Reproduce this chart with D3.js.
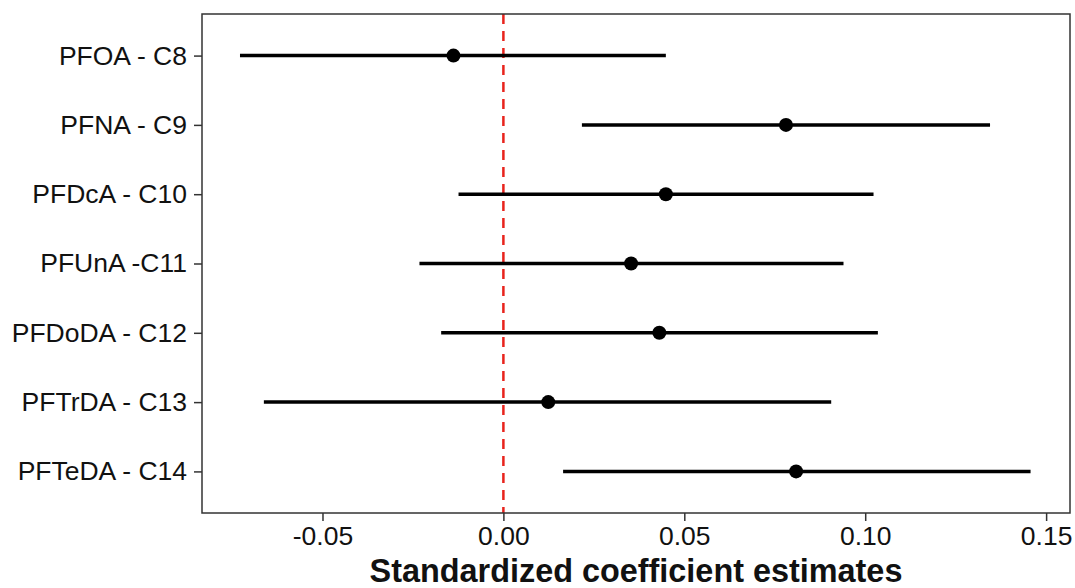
<!DOCTYPE html>
<html>
<head>
<meta charset="UTF-8">
<title>Standardized coefficient estimates</title>
<style>
  body { margin: 0; background: #fff; }
  text { font-family: Arial, "Liberation Sans", sans-serif; }
</style>
</head>
<body>
<svg></svg>
<script src="https://d3js.org/d3.v7.min.js"></script>
<script>
// chart data
const compounds = ["PFOA - C8", "PFNA - C9", "PFDcA - C10", "PFUnA -C11", "PFDoDA - C12", "PFTrDA - C13", "PFTeDA - C14"];
const estimates = [-0.0138, 0.0781, 0.0449, 0.0353, 0.0431, 0.0124, 0.0809];
const lower = [-0.0728, 0.0217, -0.0124, -0.0232, -0.0172, -0.0662, 0.0165];
const upper = [0.0449, 0.1345, 0.1023, 0.0940, 0.1035, 0.0906, 0.1457];
const xTicks = [-0.05, 0.00, 0.05, 0.10, 0.15];

let width = 1075,
    height = 588;
let margin = {top: 14, right: 5, bottom: 75, left: 202};

let svg = d3.select("svg")
    .attr("width", width)
    .attr("height", height);

const rows = compounds.map((c, i) => ({name: c, est: estimates[i], lo: lower[i], hi: upper[i]}));

const x = d3.scaleLinear()
    .domain([-0.0833, 0.1566])
    .range([margin.left, width - margin.right]);

const y = d3.scalePoint()
    .domain(compounds)
    .range([margin.top, height - margin.bottom])
    .padding(0.6);

// reference line at zero
svg.append("line")
    .attr("x1", x(0)).attr("x2", x(0))
    .attr("y1", margin.top).attr("y2", height - margin.bottom)
    .attr("stroke", "#e8231c")
    .attr("stroke-width", 2.5)
    .attr("stroke-dasharray", "10,7");

// confidence intervals
svg.append("g")
    .selectAll("line")
    .data(rows)
    .enter().append("line")
    .attr("x1", d => x(d.lo))
    .attr("x2", d => x(d.hi))
    .attr("y1", d => y(d.name))
    .attr("y2", d => y(d.name))
    .attr("stroke", "#000")
    .attr("stroke-width", 3.5);

// point estimates
svg.append("g")
    .selectAll("circle")
    .data(rows)
    .enter().append("circle")
    .attr("cx", d => x(d.est))
    .attr("cy", d => y(d.name))
    .attr("r", 7)
    .attr("fill", "#000");

// axes (plain hyphen for negatives, like the original)
const fmt = d => d3.format(".2f")(d).replace("\u2212", "-");

const xAxis = svg.append("g")
    .attr("transform", `translate(0,${height - margin.bottom})`)
    .call(d3.axisBottom(x).tickValues(xTicks).tickFormat(fmt).tickSizeInner(8).tickSizeOuter(0).tickPadding(5));

const yAxis = svg.append("g")
    .attr("transform", `translate(${margin.left},0)`)
    .call(d3.axisLeft(y).tickSizeInner(8).tickSizeOuter(0).tickPadding(7));

[xAxis, yAxis].forEach(g => {
    g.select(".domain").remove();
    g.selectAll(".tick line").attr("stroke", "#333").attr("stroke-width", 1.5);
    g.selectAll(".tick text")
        .attr("fill", "#111")
        .style("font-size", "26.5px")
        .style("font-family", "Arial, 'Liberation Sans', sans-serif");
});

// panel border
svg.append("rect")
    .attr("x", margin.left)
    .attr("y", margin.top)
    .attr("width", width - margin.right - margin.left)
    .attr("height", height - margin.bottom - margin.top)
    .attr("fill", "none")
    .attr("stroke", "#333")
    .attr("stroke-width", 1.5);

// axis title
svg.append("text")
    .attr("x", (margin.left + width - margin.right) / 2)
    .attr("y", 582)
    .attr("text-anchor", "middle")
    .style("font-size", "32.4px")
    .style("font-weight", "bold")
    .attr("fill", "#111")
    .text("Standardized coefficient estimates");
</script>
</body>
</html>
